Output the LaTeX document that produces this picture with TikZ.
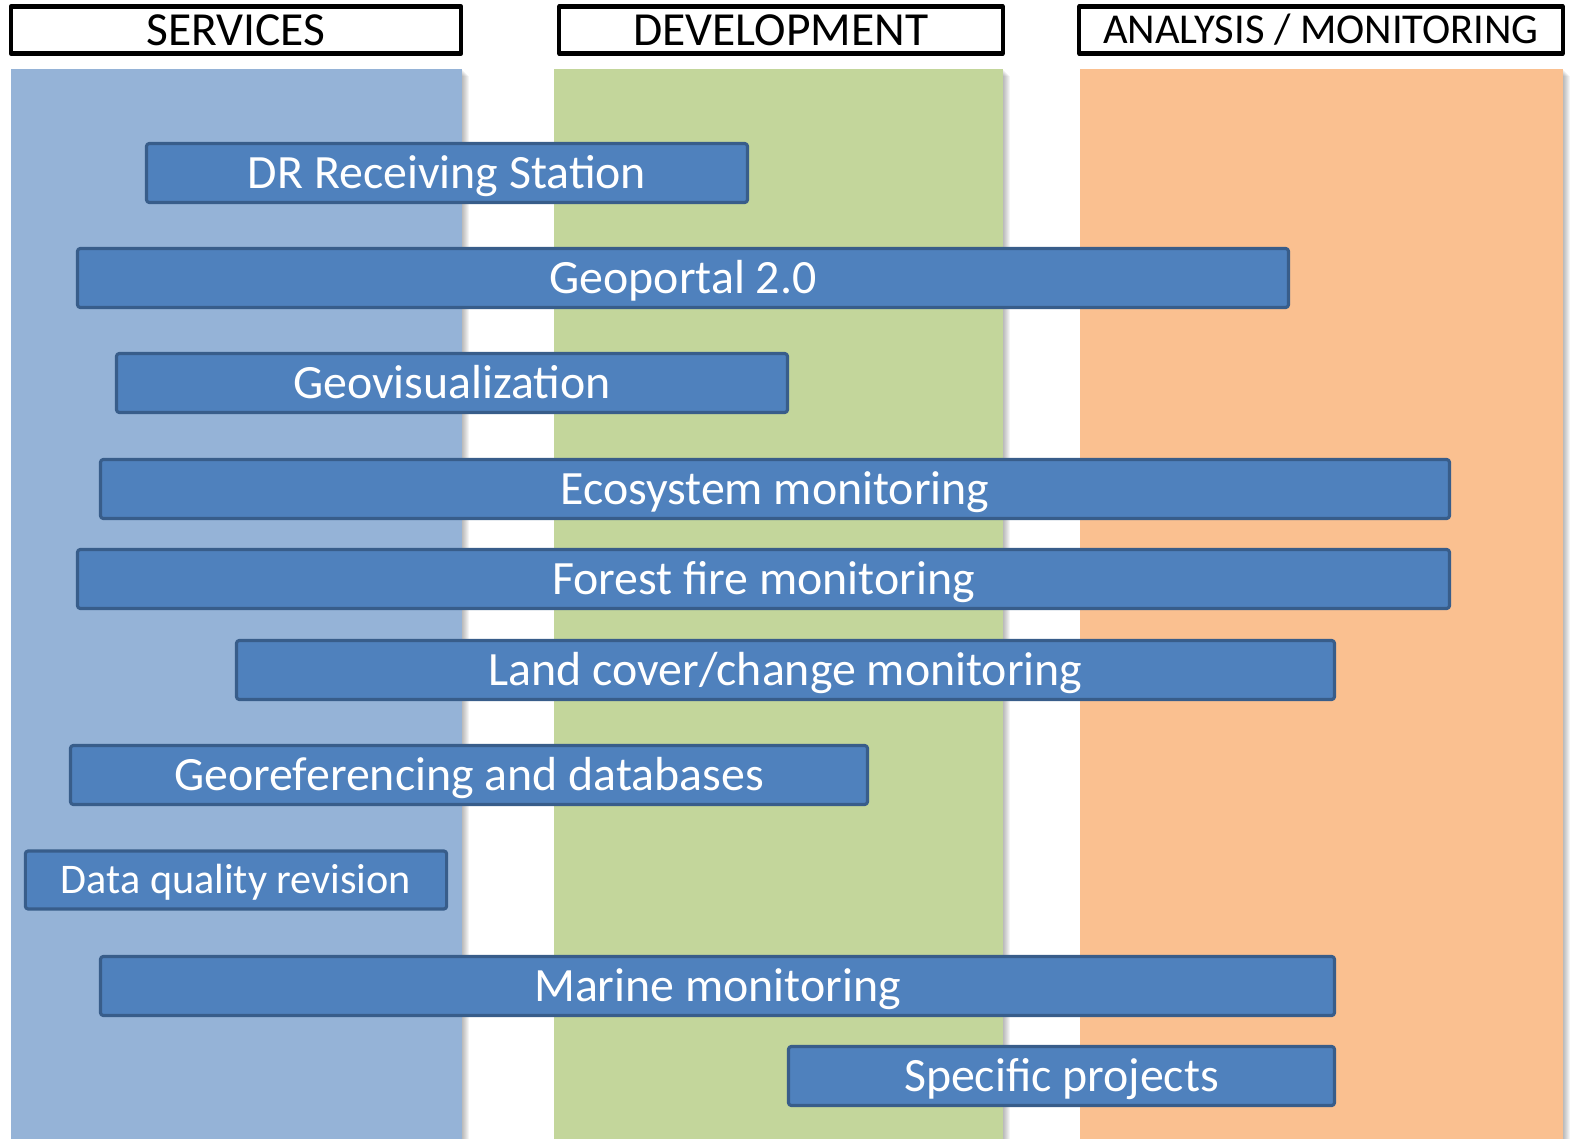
\documentclass[tikz,border=0pt]{standalone}
\usepackage{fontspec}
\setmainfont{Carlito}
\definecolor{svcblue}{HTML}{95B3D7}
\definecolor{devgreen}{HTML}{C3D69B}
\definecolor{anaorange}{HTML}{FAC090}
\definecolor{barfill}{HTML}{4F81BD}
\definecolor{barline}{HTML}{385D8A}
\tikzset{
  head/.style={draw=black, line width=1.2pt, inner sep=0pt, text height=8.7pt, text depth=0pt, font=\fontsize{13.5}{16}\selectfont},
  bar/.style={draw=barline, fill=barfill, line width=.9pt, rounded corners=.8pt, inner sep=0pt, text=white, text height=8.8pt, text depth=0pt, font=\fontsize{13.6}{16}\selectfont},
}
\begin{document}
\begin{tikzpicture}[x=.01cm, y=-.01cm, line join=round]
		\useasboundingbox (0,0) rectangle (1575,1139);
		% columns with a soft shadow on the right
		\foreach \xa/\xb/\c in {11/462/svcblue, 554/1003/devgreen, 1080/1563/anaorange}{
			\foreach \i in {1,...,7} \fill[black, opacity=.045] (\xb,{69+\i}) rectangle ({\xb+\i},1139);
			\fill[\c] (\xa,69) rectangle (\xb,1139);
		}
		% column titles
		\node[head, minimum width=4.5cm, minimum height=.47cm] (services) at (236,30) {SERVICES};
		\node[head, minimum width=4.43cm, minimum height=.47cm] (development) at (781,30) {DEVELOPMENT};
		\node[head, minimum width=4.83cm, minimum height=.47cm, text height=7.8pt, font=\fontsize{12.1}{15}\selectfont] (analysis) at (1321,30) {ANALYSIS / MONITORING};
		% activities
		\foreach \n/\xa/\xb/\y/\t in {drs/145/749/173/{DR Receiving Station}, geoportal/76/1290/278/{Geoportal 2.0},
			geovis/115/789/383/{Geovisualization}, ecosys/99/1451/489/{Ecosystem monitoring},
			fire/76/1451/579/{Forest fire monitoring}, landcover/235/1336/670/{Land cover/change monitoring},
			georef/69/869/775/{Georeferencing and databases}, marine/99/1336/986/{Marine monitoring},
			projects/787/1336/1076/{Specific projects}}
			\node[bar, minimum width={(\xb-\xa-3)*.01cm}, minimum height=.59cm] (\n) at ({(\xa+\xb)/2},\y) {\t};
		\node[bar, minimum width=4.21cm, minimum height=.58cm, text height=7.7pt, font=\fontsize{12}{15}\selectfont] (quality) at (236,880) {Data quality revision};
	\end{tikzpicture}
\end{document}
